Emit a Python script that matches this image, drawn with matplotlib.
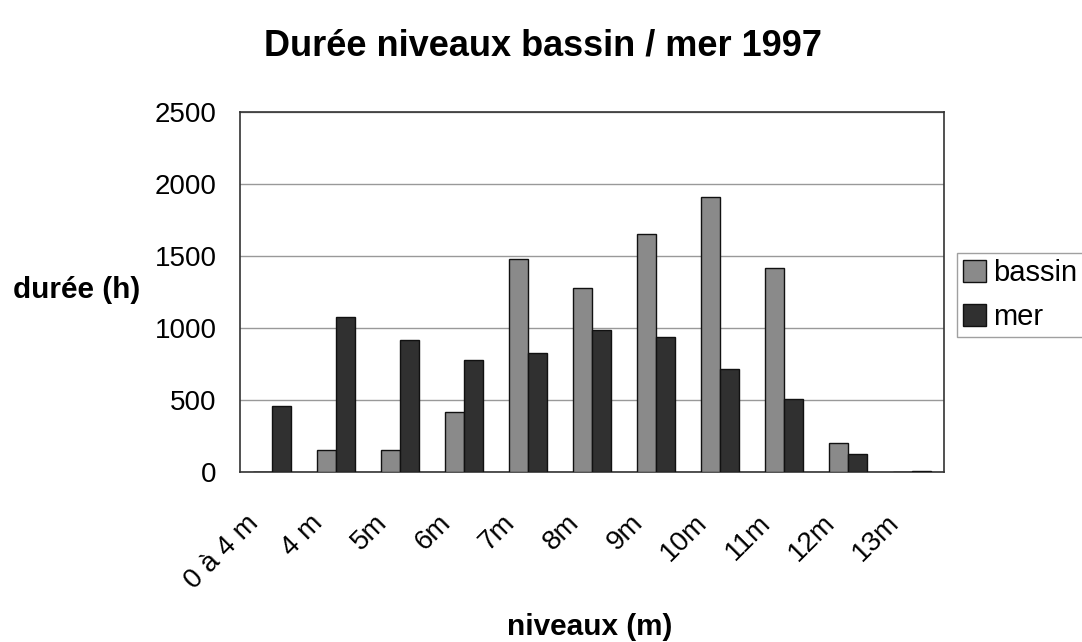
import matplotlib
matplotlib.use("Agg")
import matplotlib.pyplot as plt
import matplotlib.transforms as mtransforms
import numpy as np

plt.rcParams['font.family'] = ['Liberation Sans', 'DejaVu Sans']

categories = ["0 à 4 m", "4 m", "5m", "6m", "7m", "8m", "9m", "10m", "11m", "12m", "13m"]
bassin = [0, 155, 155, 417, 1481, 1280, 1655, 1910, 1416, 202, 0]
mer = [461, 1075, 920, 781, 823, 985, 939, 716, 508, 127, 10]
yticks = [0, 500, 1000, 1500, 2000, 2500]

fig = plt.figure(figsize=(10.82, 6.42), dpi=100)
ax = fig.add_axes([240 / 1082, 1 - 472 / 642, 704 / 1082, 360 / 642])

x = np.arange(len(categories))
w = 0.29
ax.bar(x - w / 2, bassin, width=w, color="#8a8a8a", edgecolor="#111111", linewidth=1.0, label="bassin", zorder=3)
ax.bar(x + w / 2, mer, width=w, color="#303030", edgecolor="#111111", linewidth=1.0, label="mer", zorder=3)

ax.set_xlim(-0.5, len(categories) - 0.5)
ax.set_ylim(0, 2500)
ax.set_yticks(yticks)
ax.set_yticklabels([str(v) for v in yticks], fontsize=20)
ax.yaxis.grid(True, color="#999999", linewidth=1.0, zorder=0)
ax.set_xticks(x)
ax.set_xticklabels(categories, rotation=45, ha="right", va="center",
                   rotation_mode="anchor", fontsize=20)
ax.tick_params(axis="y", length=0, pad=17)
ax.tick_params(axis="x", length=0, pad=34)
offset = mtransforms.ScaledTranslation(-0.17, 0, fig.dpi_scale_trans)
for lab in ax.get_xticklabels():
    lab.set_transform(lab.get_transform() + offset)
for s in ax.spines.values():
    s.set_color("#333333")
    s.set_linewidth(1.2)

fig.text(0.502, 0.928, "Durée niveaux bassin / mer 1997", ha="center", va="center",
         fontsize=26, fontweight="bold")
fig.text(0.0707, 0.548, "durée (h)", ha="center", va="center", fontsize=21.4, fontweight="bold")
fig.text(0.545, 0.024, "niveaux (m)", ha="center", va="center", fontsize=21.4, fontweight="bold")

leg = fig.legend(loc="lower left", bbox_to_anchor=(957 / 1082, 1 - 337 / 642), fontsize=21,
                 frameon=True, fancybox=False, handlelength=0.8, handleheight=0.8,
                 handletextpad=0.25, borderpad=0.2, labelspacing=0.55, borderaxespad=0)
leg.get_frame().set_edgecolor("#888888")
leg.get_frame().set_linewidth(1.0)

fig.savefig("out.png", dpi=100, facecolor="white")
